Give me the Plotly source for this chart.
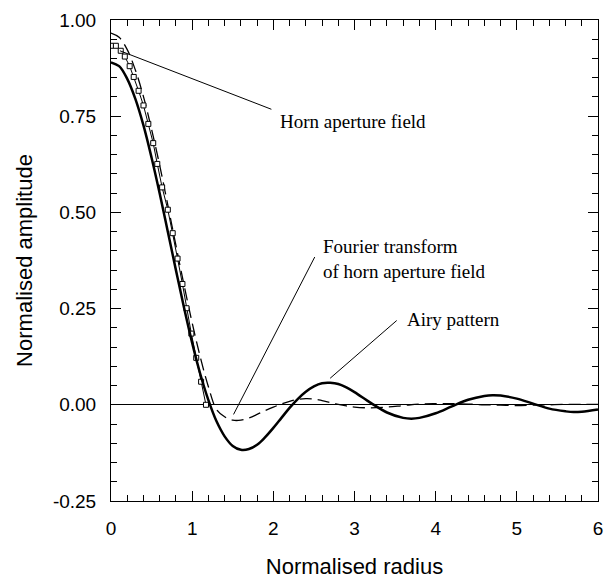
import plotly.graph_objects as go

# ---- data ----
airy_x = [0.0, 0.1, 0.2, 0.3, 0.4, 0.5, 0.6, 0.7, 0.8, 0.9, 1.0, 1.1, 1.2, 1.3, 1.4, 1.5,
          1.6, 1.7, 1.8, 1.9, 2.0, 2.1, 2.2, 2.3, 2.4, 2.5, 2.6, 2.7, 2.8, 2.9, 3.0, 3.2,
          3.4, 3.6, 3.7, 3.8, 4.0, 4.2, 4.4, 4.6, 4.7, 4.8, 5.0, 5.2, 5.4, 5.6, 5.7, 5.8, 6.0]
airy_y = [0.890, 0.880, 0.847, 0.795, 0.726, 0.642, 0.549, 0.450, 0.350, 0.252, 0.161, 0.080,
          0.012, -0.043, -0.082, -0.107, -0.117, -0.115, -0.104, -0.084, -0.060, -0.034,
          -0.008, 0.015, 0.034, 0.048, 0.056, 0.057, 0.054, 0.045, 0.033, 0.005, -0.020,
          -0.034, -0.036, -0.034, -0.022, -0.004, 0.013, 0.023, 0.025, 0.024, 0.016, 0.003,
          -0.010, -0.017, -0.019, -0.018, -0.012]

ft_x = [0.0, 0.1, 0.2, 0.3, 0.4, 0.5, 0.6, 0.7, 0.8, 0.9, 1.0, 1.1, 1.2, 1.3, 1.4, 1.5,
        1.6, 1.7, 1.8, 1.9, 2.0, 2.1, 2.2, 2.3, 2.4, 2.5, 2.6, 2.7, 2.8, 2.9, 3.0, 3.2,
        3.4, 3.6, 3.8, 4.0, 4.2, 4.4, 4.6, 4.8, 5.0, 5.2, 5.4, 5.6, 5.8, 6.0]
ft_y = [0.966, 0.955, 0.923, 0.870, 0.801, 0.716, 0.622, 0.519, 0.414, 0.311, 0.213, 0.124,
        0.047, -0.012, -0.031, -0.040, -0.040, -0.034, -0.025, -0.015, -0.006, 0.002,
        0.009, 0.014, 0.016, 0.015, 0.011, 0.006, 0.001, -0.003, -0.006, -0.008, -0.006,
        -0.002, 0.002, 0.003, 0.003, 0.002, 0.000, -0.001, -0.002, -0.001, 0.000, 0.001,
        0.001, 0.001]

horn_x = [0.0, 0.06, 0.12, 0.17, 0.23, 0.28, 0.34, 0.40, 0.46, 0.52, 0.57, 0.63, 0.70,
          0.76, 0.82, 0.88, 0.93, 0.99, 1.05, 1.11, 1.17]
horn_y = [0.933, 0.933, 0.920, 0.905, 0.880, 0.852, 0.816, 0.778, 0.730, 0.680, 0.626,
          0.565, 0.507, 0.446, 0.380, 0.314, 0.251, 0.185, 0.122, 0.060, 0.0]

x_ticks = [0, 1, 2, 3, 4, 5, 6]
y_ticks = [-0.25, 0.0, 0.25, 0.50, 0.75, 1.00]

fig = go.Figure()
fig.add_trace(go.Scatter(x=ft_x, y=ft_y, mode="lines", line_shape="spline",
                         line=dict(color="black", width=1.3, dash="12px,6px"),
                         name="Fourier transform of horn aperture field"))
fig.add_trace(go.Scatter(x=horn_x, y=horn_y, mode="lines+markers",
                         line=dict(color="black", width=1),
                         marker=dict(symbol="square", size=5, color="white",
                                     line=dict(color="black", width=1)),
                         name="Horn aperture field"))
fig.add_trace(go.Scatter(x=airy_x, y=airy_y, mode="lines", line_shape="spline",
                         line=dict(color="black", width=2.5), name="Airy pattern"))

serif = dict(family="Liberation Serif, Times New Roman, serif", size=19, color="black")

# pointer lines and labels
fig.add_shape(type="line", x0=0.11, y0=0.920, x1=1.976, y1=0.768,
              line=dict(color="black", width=1))
fig.add_annotation(x=2.06, y=0.735, text="Horn aperture field", showarrow=False,
                   xanchor="left", yanchor="middle", font=serif)
fig.add_shape(type="line", x0=1.51, y0=-0.025, x1=2.51, y1=0.384,
              line=dict(color="black", width=1))
fig.add_annotation(x=2.585, y=0.379, text="Fourier transform<br>of horn aperture field",
                   showarrow=False, xanchor="left", yanchor="middle", align="left",
                   font=serif)
fig.add_shape(type="line", x0=2.70, y0=0.069, x1=3.52, y1=0.219,
              line=dict(color="black", width=1))
fig.add_annotation(x=3.62, y=0.221, text="Airy pattern", showarrow=False,
                   xanchor="left", yanchor="middle", font=serif)

sans = "Liberation Sans, Arial, sans-serif"
fig.update_layout(
    width=613, height=584,
    margin=dict(l=111, r=10, t=15, b=76),
    paper_bgcolor="white", plot_bgcolor="white",
    showlegend=False,
    font=dict(family=sans, color="black", size=19),
    xaxis=dict(range=[0, 6], tickvals=x_ticks, ticktext=[str(v) for v in x_ticks],
               ticks="inside", ticklen=10, tickwidth=1, tickcolor="black",
               showline=True, linecolor="black", linewidth=1, mirror="allticks",
               showgrid=False, zeroline=False, ticklabelstandoff=10,
               minor=dict(dtick=0.2, ticks="inside", ticklen=6, tickcolor="black",
                          showgrid=False),
               title=dict(text="Normalised radius", font=dict(size=22, family=sans),
                          standoff=20),
               tickfont=dict(size=19, family=sans)),
    yaxis=dict(range=[-0.25, 1.0], tickvals=y_ticks,
               ticktext=["%.2f" % v for v in y_ticks],
               ticks="inside", ticklen=10, tickwidth=1, tickcolor="black",
               showline=True, linecolor="black", linewidth=1, mirror="allticks",
               showgrid=False, zeroline=True, zerolinecolor="black", zerolinewidth=1.2,
               ticklabelstandoff=10,
               minor=dict(dtick=0.05, ticks="inside", ticklen=6, tickcolor="black",
                          showgrid=False),
               title=dict(text="Normalised amplitude", font=dict(size=22, family=sans),
                          standoff=14),
               tickfont=dict(size=19, family=sans)),
)

fig.write_html(
    "out.html",
    config={"displayModeBar": False},
    post_script="document.body.style.margin='0';document.body.style.overflow='hidden';",
)
